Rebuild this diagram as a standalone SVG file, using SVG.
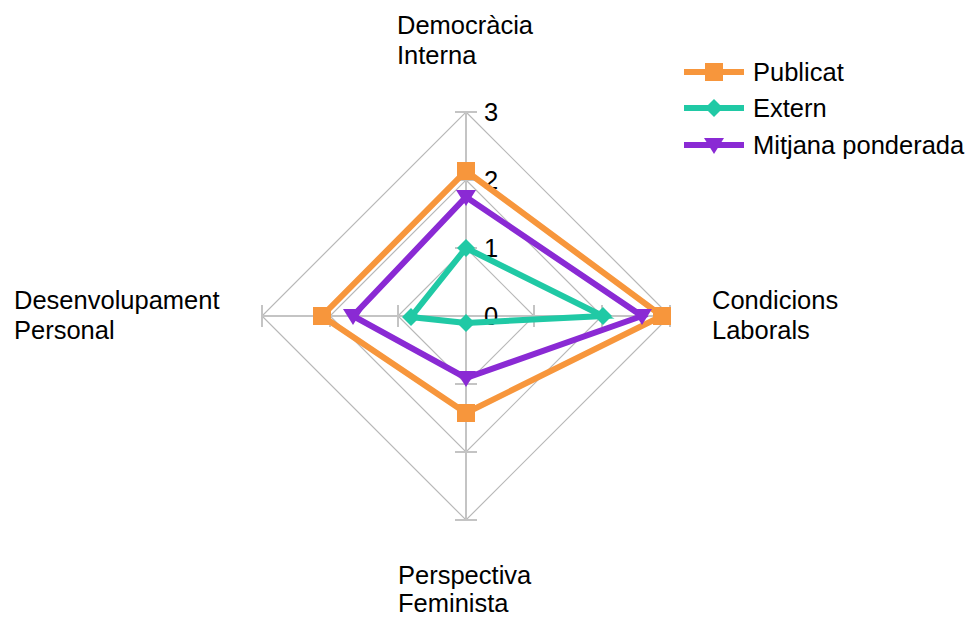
<svg xmlns="http://www.w3.org/2000/svg" width="967" height="617" viewBox="0 0 967 617">
<style>
text{font-family:"Liberation Sans",Arial,sans-serif;font-size:25.5px;fill:#000}
.grid{fill:none;stroke:#b8b8b8;stroke-width:1.2}
.axis{stroke:#c4c4c4;stroke-width:2;fill:none}
.s1{fill:none;stroke:#f7963c;stroke-width:6;stroke-linejoin:miter}
.s2{fill:none;stroke:#20c9a5;stroke-width:6;stroke-linejoin:miter}
.s3{fill:none;stroke:#8a2ad4;stroke-width:6;stroke-linejoin:miter}
.m1{fill:#f7963c}
.m2{fill:#20c9a5}
.m3{fill:#8a2ad4}
</style>
<defs>
<rect id="sq" x="-9" y="-9" width="18" height="18"/>
<polygon id="dm" points="0,-9 9,0 0,9 -9,0"/>
<polygon id="tr" points="-10,-7 10,-7 0,9"/>
</defs>
<rect width="967" height="617" fill="#fff"/>
<g id="grid">
<polygon class="grid" points="466,248 534,316 466,384 398,316"/>
<polygon class="grid" points="466,180 602,316 466,452 330,316"/>
<polygon class="grid" points="466,112 670,316 466,520 262,316"/>
<line class="axis" x1="466" y1="112" x2="466" y2="520"/>
<line class="axis" x1="262" y1="316" x2="670" y2="316"/>
<g class="axis">
<line x1="455" y1="112" x2="477" y2="112"/><line x1="455" y1="180" x2="477" y2="180"/><line x1="455" y1="248" x2="477" y2="248"/><line x1="455" y1="316" x2="477" y2="316"/>
<line x1="455" y1="384" x2="477" y2="384"/><line x1="455" y1="452" x2="477" y2="452"/><line x1="455" y1="520" x2="477" y2="520"/>
<line x1="262" y1="305" x2="262" y2="327"/><line x1="330" y1="305" x2="330" y2="327"/><line x1="398" y1="305" x2="398" y2="327"/><line x1="466" y1="305" x2="466" y2="327"/>
<line x1="534" y1="305" x2="534" y2="327"/><line x1="602" y1="305" x2="602" y2="327"/><line x1="670" y1="305" x2="670" y2="327"/>
</g>
</g>
<g id="scale">
<text x="484" y="121">3</text>
<text x="484" y="189">2</text>
<text x="484" y="257">1</text>
<text x="484" y="325">0</text>
</g>
<g id="series">
<g id="publicat">
<polygon class="s1" points="466,171 662,316 466,413 322,316"/>
<g class="m1"><use href="#sq" x="466" y="171"/><use href="#sq" x="662" y="316"/><use href="#sq" x="466" y="413"/><use href="#sq" x="322" y="316"/></g>
</g>
<g id="extern">
<polygon class="s2" points="466,248 603,316 466,323 411,317"/>
<g class="m2"><use href="#dm" x="466" y="248"/><use href="#dm" x="603" y="316"/><use href="#dm" x="466" y="323"/><use href="#dm" x="411" y="317"/></g>
</g>
<g id="mitjana">
<polygon class="s3" points="466,197 642,316 466,378 353,316"/>
<g class="m3"><use href="#tr" x="466" y="197"/><use href="#tr" x="642" y="316"/><use href="#tr" x="466" y="378"/><use href="#tr" x="353" y="316"/></g>
</g>
</g>
<g id="label-democracia"><text x="397" y="34">Democràcia</text><text x="397" y="64">Interna</text></g>
<g id="label-condicions"><text x="712" y="309">Condicions</text><text x="712" y="339">Laborals</text></g>
<g id="label-desenvolupament"><text x="14" y="309">Desenvolupament</text><text x="14" y="339">Personal</text></g>
<g id="label-perspectiva"><text x="398" y="584">Perspectiva</text><text x="398" y="612">Feminista</text></g>
<g id="legend">
<line class="s1" x1="684" y1="72" x2="744" y2="72"/><use class="m1" href="#sq" x="714" y="72"/><text x="753" y="81">Publicat</text>
<line class="s2" x1="684" y1="108" x2="744" y2="108"/><use class="m2" href="#dm" x="714" y="108"/><text x="753" y="117">Extern</text>
<line class="s3" x1="684" y1="145" x2="744" y2="145"/><use class="m3" href="#tr" x="714" y="145"/><text x="753" y="154">Mitjana ponderada</text>
</g>
</svg>
